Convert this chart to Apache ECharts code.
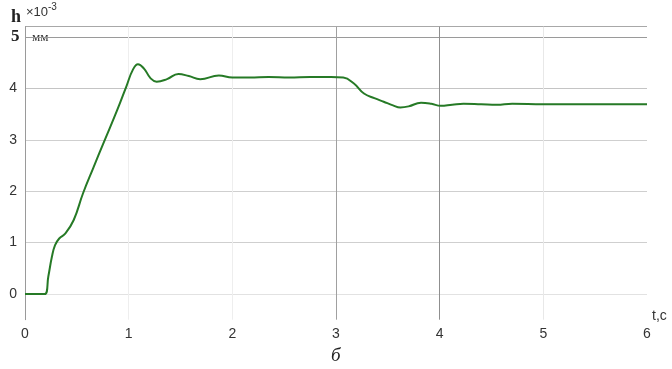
<!DOCTYPE html>
<html>
<head>
<meta charset="utf-8">
<script src="https://cdn.jsdelivr.net/npm/echarts@6/dist/echarts.min.js"></script>
<style>
  html, body { margin: 0; padding: 0; background: #fff; }
  #chart { width: 672px; height: 369px; }
</style>
</head>
<body>
<div id="chart"></div>
<script>
// Time, seconds
const timeSec = [0, 0.19, 0.225, 0.26, 0.29, 0.33, 0.39, 0.47, 0.56, 0.66, 0.76, 0.89, 0.98, 1.04, 1.09, 1.15, 1.21, 1.27, 1.37, 1.48, 1.58, 1.69, 1.87, 2.0, 2.17, 2.35, 2.55, 2.75, 2.95, 3.07, 3.17, 3.27, 3.37, 3.46, 3.55, 3.62, 3.7, 3.82, 3.92, 4.01, 4.12, 4.23, 4.4, 4.55, 4.7, 5.0, 5.5, 6.0];
// Displacement h, x10^-3 mm
const heightMm = [0, 0, 0.34, 0.73, 0.95, 1.08, 1.18, 1.44, 1.96, 2.46, 2.95, 3.58, 4.05, 4.36, 4.47, 4.38, 4.2, 4.13, 4.18, 4.28, 4.24, 4.18, 4.25, 4.21, 4.21, 4.22, 4.21, 4.22, 4.22, 4.21, 4.1, 3.9, 3.81, 3.74, 3.67, 3.63, 3.65, 3.72, 3.70, 3.66, 3.68, 3.70, 3.69, 3.68, 3.70, 3.69, 3.69, 3.69];
const xTicks = [0, 1, 2, 3, 4, 5, 6];
const yTicks = [0, 1, 2, 3, 4];

const points = timeSec.map((t, i) => [t, heightMm[i]]);

const chart = echarts.init(document.getElementById('chart'));
chart.setOption({
  animation: false,
  grid: { left: 25, right: 25, top: 26.7, bottom: 49.3 },
  xAxis: {
    type: 'value', min: 0, max: 6, interval: 1,
    axisLine: { show: false },
    axisTick: { show: false },
    axisLabel: {
      margin: 7, fontSize: 14, color: '#333', fontFamily: 'Liberation Sans',
      formatter: v => xTicks.includes(v) ? String(v) : ''
    },
    splitLine: {
      show: true,
      lineStyle: { width: 1, color: ['#999', '#eeeeee', '#eeeeee', '#a0a0a0', '#8f8f8f', '#e8e8e8', 'rgba(0,0,0,0)'] }
    }
  },
  yAxis: {
    type: 'value', min: -0.5, max: 5.2, interval: 0.5,
    axisLine: { show: true, lineStyle: { color: '#9a9a9a', width: 1 } },
    axisTick: { show: false },
    axisLabel: {
      margin: 8, fontSize: 14, color: '#333', fontFamily: 'Liberation Sans',
      formatter: v => yTicks.includes(v) ? String(v) : ''
    },
    splitLine: {
      show: true,
      lineStyle: {
        width: 1,
        color: ['rgba(0,0,0,0)', '#e2e2e2', 'rgba(0,0,0,0)', '#cfcfcf', 'rgba(0,0,0,0)', '#cfcfcf',
                'rgba(0,0,0,0)', '#cfcfcf', 'rgba(0,0,0,0)', '#c4c4c4', 'rgba(0,0,0,0)', '#9a9a9a', '#a8a8a8']
      }
    }
  },
  series: [{
    type: 'line',
    data: points,
    smooth: 0.45,
    showSymbol: false,
    lineStyle: { color: '#267a26', width: 2 }
  }],
  graphic: [
    { type: 'text', left: 11, top: 8, style: { text: 'h', font: 'bold 18px "Liberation Serif"', fill: '#222' } },
    { type: 'text', left: 26, top: 6, style: { text: '×10', font: '13px "Liberation Sans"', fill: '#333' } },
    { type: 'text', left: 48, top: 2, style: { text: '-3', font: '10px "Liberation Sans"', fill: '#333' } },
    { type: 'text', left: 11, top: 28, style: { text: '5', font: 'bold 17px "Liberation Serif"', fill: '#222' } },
    { type: 'text', left: 32, top: 31, style: { text: 'мм', font: '13px "Liberation Serif"', fill: '#333' } },
    { type: 'text', left: 652, top: 309, style: { text: 't,c', font: '14px "Liberation Sans"', fill: '#333' } },
    { type: 'text', left: 331, top: 346, style: { text: 'б', font: 'italic 19px "Liberation Serif"', fill: '#222' } }
  ]
});
</script>
</body>
</html>
